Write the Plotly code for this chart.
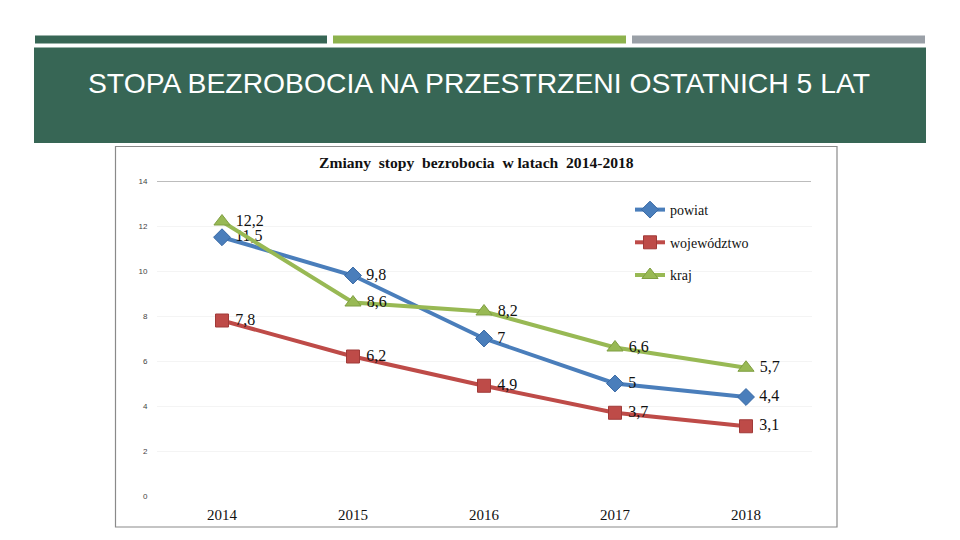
import plotly.graph_objects as go

years = ["2014", "2015", "2016", "2017", "2018"]
powiat = [11.5, 9.8, 7.0, 5.0, 4.4]
wojewodztwo = [7.8, 6.2, 4.9, 3.7, 3.1]
kraj = [12.2, 8.6, 8.2, 6.6, 5.7]
y_ticks = [0, 2, 4, 6, 8, 10, 12, 14]

series = [
    ("powiat", powiat, "#4a7ebb", "#3a6aa5", "diamond", 13),
    ("województwo", wojewodztwo, "#be4b48", "#a03a38", "square", 13),
    ("kraj", kraj, "#98b954", "#7f9e42", "triangle-up", 14),
]

W, H = 960, 540
OFF = 8  # page body margin compensation
def px(x): return (x - OFF) / W
def py(y): return (H - (y - OFF)) / H

fig = go.Figure()
for i, (name, vals, col, edge, sym, msize) in enumerate(series):
    labels = [" " + f"{v:g}".replace(".", ",") for v in vals]
    fig.add_trace(go.Scatter(
        x=years, y=vals, name=name, legendgroup=f"g{i}",
        mode="lines+markers+text",
        line=dict(color=col, width=4),
        marker=dict(symbol=sym, size=msize, color=col, line=dict(color=edge, width=1)),
        text=labels, textposition="middle right",
        textfont=dict(family="Liberation Serif", size=16, color="#111111"),
        cliponaxis=False,
    ))

shapes = [
    dict(type="rect", xref="paper", yref="paper", x0=px(35), x1=px(327), y0=py(43.5), y1=py(35.5),
         fillcolor="#376655", line=dict(width=0), layer="below"),
    dict(type="rect", xref="paper", yref="paper", x0=px(333), x1=px(626), y0=py(43.5), y1=py(35.5),
         fillcolor="#8db24d", line=dict(width=0), layer="below"),
    dict(type="rect", xref="paper", yref="paper", x0=px(632), x1=px(925), y0=py(43.5), y1=py(35.5),
         fillcolor="#9aa0a7", line=dict(width=0), layer="below"),
    dict(type="rect", xref="paper", yref="paper", x0=px(34), x1=px(926), y0=py(143), y1=py(47.5),
         fillcolor="#376655", line=dict(width=0), layer="below"),
    dict(type="rect", xref="paper", yref="paper", x0=px(115.5), x1=px(837), y0=py(527), y1=py(146.5),
         fillcolor="white", line=dict(color="#8a8a8a", width=1.2), layer="below"),
    dict(type="line", xref="paper", yref="y", x0=px(157), x1=px(811), y0=14, y1=14,
         line=dict(color="#7a7a7a", width=1)),
]

annotations = [
    dict(text="STOPA BEZROBOCIA NA PRZESTRZENI OSTATNICH 5 LAT", xref="paper", yref="paper",
         x=px(478.5), y=py(83), xanchor="center", yanchor="middle", showarrow=False,
         font=dict(family="Liberation Sans", size=28.3, color="white")),
    dict(text="<b>Zmiany  stopy  bezrobocia  w latach  2014-2018</b>", xref="paper", yref="paper",
         x=px(476), y=py(162), xanchor="center", yanchor="middle", showarrow=False,
         font=dict(family="Liberation Serif", size=15.6, color="#111111")),
]

fig.update_layout(
    width=W, height=H,
    margin=dict(l=0, r=0, t=0, b=0, autoexpand=False),
    paper_bgcolor="white", plot_bgcolor="rgba(0,0,0,0)",
    shapes=shapes, annotations=annotations,
    showlegend=True,
    legend=dict(x=px(630), y=py(194), xanchor="left", yanchor="top",
                bgcolor="rgba(0,0,0,0)", tracegroupgap=11.5,
                font=dict(family="Liberation Serif", size=14, color="#111111")),
    xaxis=dict(domain=[px(156.5), px(811.5)], type="category", range=[-0.5, 4.5],
               showgrid=False, zeroline=False, automargin=False,
               showline=False, ticks="", ticklabelstandoff=8,
               tickfont=dict(family="Liberation Serif", size=15, color="#111111")),
    yaxis=dict(domain=[py(496), py(181)], range=[0, 14], tickvals=y_ticks, automargin=False,
               ticktext=[str(t) for t in y_ticks], showgrid=True, gridcolor="#f4f4f4",
               zeroline=False, showline=False, ticks="", ticklabelstandoff=8,
               tickfont=dict(family="Liberation Sans", size=8, color="#444444")),
)

fig.write_html("out.html")
